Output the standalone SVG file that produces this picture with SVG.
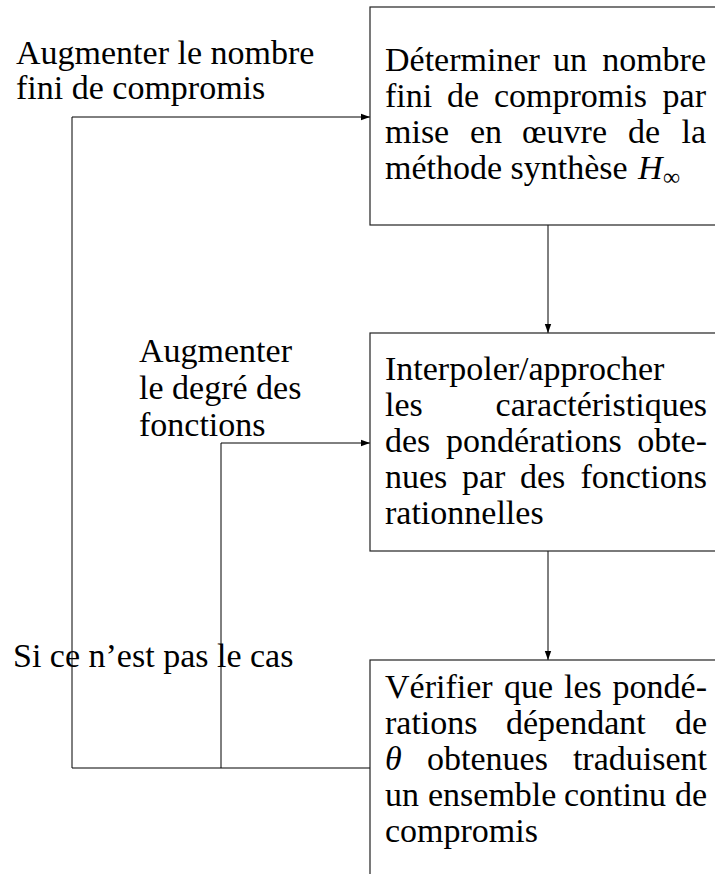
<svg xmlns="http://www.w3.org/2000/svg" width="715" height="874" viewBox="0 0 715 874">
<style>
  text { font-family: "Liberation Serif", "Times New Roman", "DejaVu Serif", serif; font-size: 34px; fill: #000; }
  .box { fill: #fff; stroke: #222; stroke-width: 1.2; }
  .conn { fill: none; stroke: #000; stroke-width: 1; }
  .it { font-style: italic; }
  .end { text-anchor: end; }
</style>
<defs>
  <marker id="arr" markerUnits="userSpaceOnUse" markerWidth="10" markerHeight="8" refX="9" refY="4" orient="auto">
    <path d="M0,0.8 L9,4 L0,7.2 Z" fill="#000"/>
  </marker>
</defs>
<rect width="715" height="874" fill="#fff"/>

<g id="connectors">
  <path class="conn" d="M548 225 L548 333" marker-end="url(#arr)"/>
  <path class="conn" d="M548 551 L548 660" marker-end="url(#arr)"/>
  <path class="conn" d="M370 768 L72 768 L72 117 L370 117" marker-end="url(#arr)"/>
  <path class="conn" d="M221 768 L221 443 L370 443" marker-end="url(#arr)"/>
</g>

<g id="node1">
  <rect class="box" x="370" y="7" width="360" height="218"/>
  <text y="71"><tspan x="385">Déterminer</tspan><tspan x="553">un</tspan><tspan x="706" class="end">nombre</tspan></text>
  <text y="107"><tspan x="385">fini</tspan><tspan x="447">de</tspan><tspan x="494">compromis</tspan><tspan x="706" class="end">par</tspan></text>
  <text y="143"><tspan x="385">mise</tspan><tspan x="470">en</tspan><tspan x="522">œuvre</tspan><tspan x="628">de</tspan><tspan x="706" class="end">la</tspan></text>
  <text y="179"><tspan x="385">méthode synthèse</tspan><tspan x="638" class="it">H</tspan><tspan x="663" y="185" style="font-size:24px">∞</tspan></text>
</g>

<g id="node2">
  <rect class="box" x="370" y="333" width="360" height="218"/>
  <text y="380" x="385">Interpoler/approcher</text>
  <text y="416"><tspan x="385">les</tspan><tspan x="707" class="end">caractéristiques</tspan></text>
  <text y="452"><tspan x="385">des</tspan><tspan x="446">pondérations</tspan><tspan x="707" class="end">obte-</tspan></text>
  <text y="488"><tspan x="385">nues</tspan><tspan x="462">par</tspan><tspan x="520">des</tspan><tspan x="707" class="end">fonctions</tspan></text>
  <text y="524" x="385">rationnelles</text>
</g>

<g id="node3">
  <rect class="box" x="370" y="660" width="360" height="240"/>
  <text y="698"><tspan x="385">Vérifier</tspan><tspan x="504">que</tspan><tspan x="564">les</tspan><tspan x="707" class="end">pondé-</tspan></text>
  <text y="734"><tspan x="385">rations</tspan><tspan x="506">dépendant</tspan><tspan x="707" class="end">de</tspan></text>
  <text y="770"><tspan x="385" class="it">θ</tspan><tspan x="427">obtenues</tspan><tspan x="707" class="end">traduisent</tspan></text>
  <text y="806"><tspan x="385">un</tspan><tspan x="428">ensemble</tspan><tspan x="564">continu</tspan><tspan x="707" class="end">de</tspan></text>
  <text y="842" x="385">compromis</text>
</g>

<g id="label-nombre">
  <text x="16" y="64">Augmenter le nombre</text>
  <text x="16" y="99">fini de compromis</text>
</g>

<g id="label-degre">
  <text x="139" y="362">Augmenter</text>
  <text x="139" y="399">le degré des</text>
  <text x="139" y="436">fonctions</text>
</g>

<g id="label-cas">
  <text x="13" y="667">Si ce n’est pas le cas</text>
</g>
</svg>
